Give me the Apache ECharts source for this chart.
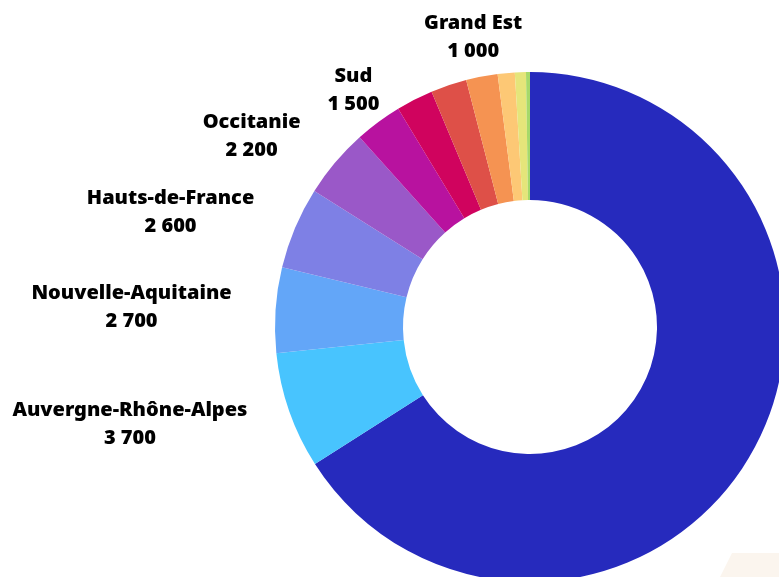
<!DOCTYPE html>
<html>
<head>
<meta charset="utf-8">
<script src="https://cdn.jsdelivr.net/npm/echarts@6/dist/echarts.min.js"></script>
<style>
  html, body { margin: 0; padding: 0; background: #ffffff; }
  #chart { width: 779px; height: 577px; }
</style>
</head>
<body>
<div id="chart"></div>
<script>
// ---- data ----
const regions = [
  'Île-de-France', 'Auvergne-Rhône-Alpes', 'Nouvelle-Aquitaine', 'Hauts-de-France',
  'Occitanie', 'Sud', 'Pays de la Loire', 'Bretagne', 'Grand Est',
  'Normandie', 'Centre-Val de Loire', 'Corse'
];
const values = [33000, 3700, 2700, 2600, 2200, 1500, 1170, 1140, 1000, 540, 350, 125];
const sliceColors = [
  '#262ABD', '#48C4FE', '#63A6F8', '#7E80E5', '#9A58C8', '#B8129F',
  '#D0035E', '#DE5048', '#F59352', '#FDC875', '#E5E57A', '#A6D96A'
];
const labeledRegions = [
  'Auvergne-Rhône-Alpes', 'Nouvelle-Aquitaine', 'Hauts-de-France',
  'Occitanie', 'Sud', 'Grand Est'
];

// ---- layout ----
const CX = 530, CY = 327, R_IN = 127, R_OUT = 255;
const FONT = '"Noto Sans", "Open Sans", sans-serif';

function fmt(v) {
  return String(v).replace(/\B(?=(\d{3})+(?!\d))/g, ' ');
}

const chart = echarts.init(document.getElementById('chart'), null, { renderer: 'canvas' });

const seriesData = regions.map((name, i) => ({
  name: name,
  value: values[i],
  itemStyle: { color: sliceColors[i] },
  label: { show: labeledRegions.indexOf(name) >= 0 }
}));

chart.setOption({
  animation: false,
  backgroundColor: '#ffffff',
  graphic: [{
    type: 'polygon',
    silent: true,
    z: -10,
    shape: { points: [[720, 577], [732, 553], [779, 553], [779, 577]] },
    style: { fill: '#FBF5EE' }
  }],
  series: [{
    type: 'pie',
    center: [CX, CY],
    radius: [R_IN, R_OUT],
    startAngle: 90,
    clockwise: true,
    avoidLabelOverlap: false,
    minShowLabelAngle: 0,
    data: seriesData,
    itemStyle: { borderWidth: 0 },
    label: {
      position: 'outside',
      formatter: p => '{t|' + p.name + '}\n{t|' + fmt(p.value) + '}',
      fontFamily: FONT,
      fontWeight: 900,
      fontSize: 20,
      lineHeight: 28,
      color: '#000000',
      distanceToLabelLine: 4,
      rich: {
        t: {
          align: 'center',
          fontFamily: FONT,
          fontWeight: 900,
          fontSize: 20,
          lineHeight: 28,
          color: '#000000'
        }
      }
    },
    labelLine: { show: false, length: 40, length2: 0 },
    labelLayout: function (params) {
      const r = params.labelRect;
      const ax = r.x + r.width + 4;
      const ay = r.y + r.height / 2;
      const ang = Math.atan2(Math.abs(ax - CX), CY - ay) * 180 / Math.PI;
      if (ang < 45) {
        return { dx: r.width / 2 + 3 };
      }
      return {};
    },
    emphasis: { disabled: true }
  }]
});
</script>
</body>
</html>
